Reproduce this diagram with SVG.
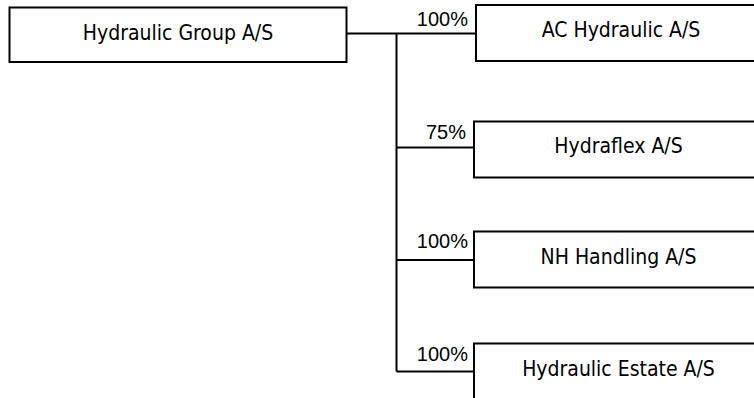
<svg xmlns="http://www.w3.org/2000/svg" width="754" height="398" viewBox="0 0 754 398">
<style>
.box{fill:#fff;stroke:#000;stroke-width:2}
.lbl{font-family:"DejaVu Sans Condensed","DejaVu Sans",sans-serif;font-stretch:condensed;font-size:21px;fill:#000;text-anchor:middle}
.pct{font-family:"Liberation Sans",Arial,sans-serif;font-size:20px;fill:#000;text-anchor:end}
.ln{fill:none;stroke:#000;stroke-width:2}
</style>
<rect width="754" height="398" fill="#fff"/>
<g id="connectors">
<path class="ln" d="M346.5 33.5 H476 M396.5 33.5 V371.5 M396.5 147.5 H474 M396.5 260 H474 M396.5 371.5 H474"/>
<text class="pct" x="468" y="26">100%</text>
<text class="pct" x="466" y="139">75%</text>
<text class="pct" x="468" y="248">100%</text>
<text class="pct" x="468" y="360.5">100%</text>
</g>
<g id="root">
<rect class="box" x="9.5" y="7.5" width="337" height="54.5"/>
<text class="lbl" x="178" y="40">Hydraulic Group A/S</text>
</g>
<g id="ac">
<rect class="box" x="476" y="5" width="290" height="56"/>
<text class="lbl" x="621" y="36.5">AC Hydraulic A/S</text>
</g>
<g id="hydraflex">
<rect class="box" x="474" y="121.5" width="290" height="56"/>
<text class="lbl" x="618.5" y="152.5">Hydraflex A/S</text>
</g>
<g id="nh">
<rect class="box" x="474" y="231.5" width="290" height="56"/>
<text class="lbl" x="618.5" y="264">NH Handling A/S</text>
</g>
<g id="estate">
<rect class="box" x="474" y="343.5" width="290" height="60"/>
<text class="lbl" x="618.5" y="375.5">Hydraulic Estate A/S</text>
</g>
</svg>
